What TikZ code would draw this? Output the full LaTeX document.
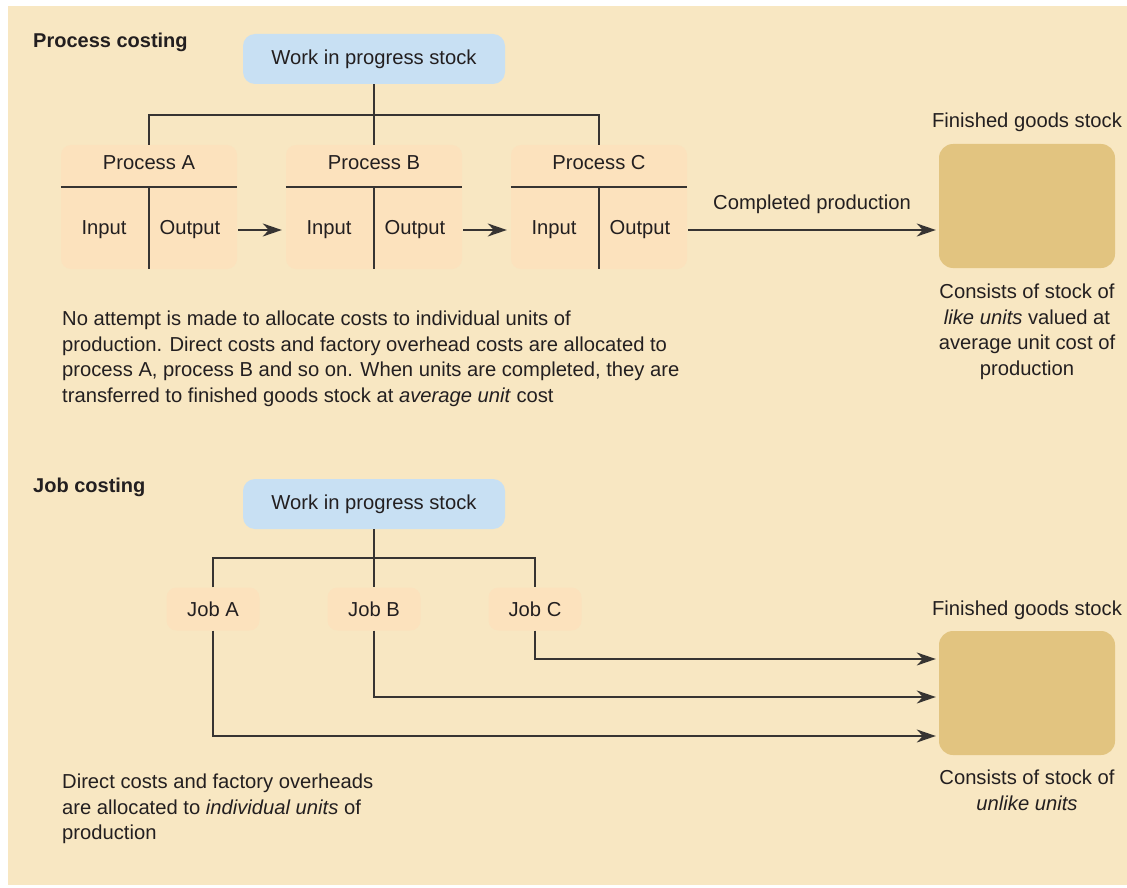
\documentclass[tikz,border=0pt]{standalone}
\usepackage{fontspec}
\setmainfont{Liberation Sans}
\usetikzlibrary{positioning,arrows.meta}
\definecolor{pagetan}{RGB}{248,231,194}
\definecolor{procpeach}{RGB}{252,226,189}
\definecolor{wipblue}{RGB}{200,224,243}
\definecolor{stockgold}{RGB}{226,196,128}
\definecolor{linegrey}{RGB}{55,52,50}
\definecolor{inkdark}{RGB}{35,31,32}

\begin{document}
\begin{tikzpicture}[x=1pt, y=-1pt,
      every node/.style={font=\fontsize{20.2}{25.4}\selectfont, text=inkdark},
      heading/.style={font=\fontsize{20}{25.4}\selectfont\bfseries, anchor=west, inner sep=0pt},
      wip/.style={fill=wipblue, rounded corners=12pt, minimum width=262pt, minimum height=50pt},
      process/.style={fill=procpeach, rounded corners=10pt, minimum width=176pt, minimum height=124pt},
      stock/.style={fill=stockgold, rounded corners=14pt, minimum width=176pt, minimum height=124pt},
      job/.style={fill=procpeach, rounded corners=10pt, minimum width=93pt, minimum height=43pt},
      link/.style={draw=linegrey, line width=1.6pt},
      flow/.style={link, -{Stealth[length=19pt, width=13pt, inset=6pt]}},
      para/.style={anchor=north west, align=left, inner sep=0pt},
      note/.style={anchor=north, align=center, inner sep=0pt}]
  %.
  \useasboundingbox (0,0) rectangle (1127,888);
  \fill[pagetan] (8,6) rectangle (1127,885);
  %.
  % process costing
  \node[heading] (hproc) at (33,42) {Process costing};
  \node[wip] (wip1) at (374,59) {Work in progress stock};
  \node[process] (procA) at (149,207) {};
  \node[process] (procB) at (374,207) {};
  \node[process] (procC) at (599,207) {};
  \node[stock] (fin1) at (1027,206) {};
  \node (fin1t) at (1027,122) {Finished goods stock};
  %.
  \node (tA) at ([yshift=-18pt]procA.north) {Process A};
  \node (iA) at ([xshift=-45pt,yshift=-23pt]procA.center) {Input};
  \node (oA) at ([xshift=41pt,yshift=-23pt]procA.center) {Output};
  \draw[link] ([yshift=-42pt]procA.north west) -- ([yshift=-42pt]procA.north east);
  \draw[link] ([yshift=-42pt]procA.north) -- (procA.south);
  \node (tB) at ([yshift=-18pt]procB.north) {Process B};
  \node (iB) at ([xshift=-45pt,yshift=-23pt]procB.center) {Input};
  \node (oB) at ([xshift=41pt,yshift=-23pt]procB.center) {Output};
  \draw[link] ([yshift=-42pt]procB.north west) -- ([yshift=-42pt]procB.north east);
  \draw[link] ([yshift=-42pt]procB.north) -- (procB.south);
  \node (tC) at ([yshift=-18pt]procC.north) {Process C};
  \node (iC) at ([xshift=-45pt,yshift=-23pt]procC.center) {Input};
  \node (oC) at ([xshift=41pt,yshift=-23pt]procC.center) {Output};
  \draw[link] ([yshift=-42pt]procC.north west) -- ([yshift=-42pt]procC.north east);
  \draw[link] ([yshift=-42pt]procC.north) -- (procC.south);
  %.
  \coordinate (bus1) at (374,115);
  \draw[link] (wip1.south) -- (bus1) -- (procB.north);
  \draw[link] (procA.north) -- (procA.north |- bus1) -- (procC.north |- bus1) -- (procC.north);
  \draw[flow] ([xshift=1pt]procA.east |- oA) -- ([xshift=-4pt]procB.west |- iB);
  \draw[flow] ([xshift=1pt]procB.east |- oB) -- ([xshift=-4pt]procC.west |- iC);
  \draw[flow] ([xshift=1pt]procC.east |- oC) -- node[above=12pt] (done) {Completed production}
    ([xshift=-3pt]fin1.west |- oC);
  %.
  \node[note] (fin1n) at (1027,284) {Consists of stock of\\\textit{like units} valued at\\average unit cost of\\production};
  \node[para] (procn) at (62,311) {No attempt is made to allocate costs to individual units of\\
    production. Direct costs and factory overhead costs are allocated to\\
    process A, process B and so on. When units are completed, they are\\
    transferred to finished goods stock at \textit{average unit} cost};
  %.
  % job costing
  \node[heading] (hjob) at (33,487) {Job costing};
  \node[wip] (wip2) at (374,504) {Work in progress stock};
  \node[job] (jobA) at (213,609) {Job A};
  \node[job] (jobB) at (374,609) {Job B};
  \node[job] (jobC) at (535,609) {Job C};
  \node[stock] (fin2) at (1027,693) {};
  \node (fin2t) at (1027,610) {Finished goods stock};
  %.
  \coordinate (bus2) at (374,558);
  \draw[link] (wip2.south) -- (bus2) -- (jobB.north);
  \draw[link] (jobA.north) -- (jobA.north |- bus2) -- (jobC.north |- bus2) -- (jobC.north);
  \draw[flow] (jobC.south) |- ([xshift=-3pt]fin2.west |- 0,659);
  \draw[flow] (jobB.south) |- ([xshift=-3pt]fin2.west |- 0,697);
  \draw[flow] (jobA.south) |- ([xshift=-3pt]fin2.west |- 0,736);
  %.
  \node[note] (fin2n) at (1027,770) {Consists of stock of\\\textit{unlike units}};
  \node[para] (jobn) at (62,774) {Direct costs and factory overheads\\
    are allocated to \textit{individual units} of\\production};
  %.
\end{tikzpicture}
\end{document}
